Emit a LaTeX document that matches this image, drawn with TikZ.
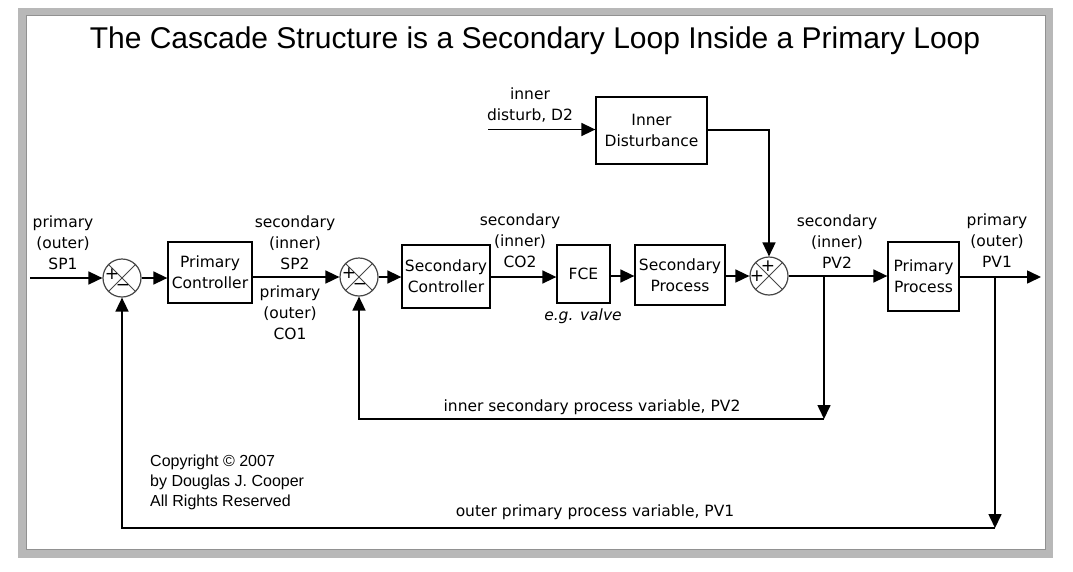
\documentclass[tikz,border=0pt]{standalone}
\usepackage{fontspec}
\setmainfont{DejaVu Sans}
\newfontfamily\arialf{Liberation Sans}
\usetikzlibrary{arrows.meta}
\definecolor{frameg}{RGB}{184,184,184}
\definecolor{frameedge}{RGB}{145,145,145}
\definecolor{sumgray}{RGB}{70,70,70}
\newcommand{\dlabfont}{\fontsize{15.5}{21}\selectfont}
\tikzset{
  blk/.style={draw, line width=1.3pt, inner sep=0pt, align=center, font=\dlabfont},
  lbl/.style={inner sep=0pt, align=center, font=\dlabfont},
  sumj/.style={circle, draw=sumgray, line width=1.2pt, minimum size=38pt, inner sep=0pt},
  xline/.style={draw=sumgray, line width=1pt},
  sgn/.style={inner sep=0pt, font=\fontsize{17}{17}\selectfont},
  conn/.style={line width=1.6pt, -{Triangle[length=14pt,width=13pt]}},
  wire/.style={line width=1.6pt},
}
\begin{document}
\begin{tikzpicture}[x=1pt,y=-1pt]
\useasboundingbox (0,0) rectangle (1073,571);
\fill[white] (0,0) rectangle (1073,571);
% frame
\draw[frameg, line width=8pt] (22,11.5) rectangle (1049,553.5);
\draw[frameedge, line width=0.8pt] (26,15.5) rectangle (1045,549.5);
% title
\node[anchor=base, inner sep=0pt, font=\arialf\fontsize{30}{34}\selectfont] (title) at (535,48.5)
  {The Cascade Structure is a Secondary Loop Inside a Primary Loop};

% summing junctions
\node[sumj] (J1) at (122,278) {};
\node[sumj] (J2) at (359,277) {};
\node[sumj] (J3) at (769,276) {};
\foreach \j in {J1,J2,J3}{
  \draw[xline] (\j.45) -- (\j.225) (\j.135) -- (\j.315);
}
\node[sgn, xshift=-10pt, yshift=4pt] (J1p) at (J1) {+};
\node[sgn, xshift=1pt, yshift=-9pt] (J1m) at (J1) {−};
\node[sgn, xshift=-10pt, yshift=4pt] (J2p) at (J2) {+};
\node[sgn, xshift=1pt, yshift=-9pt] (J2m) at (J2) {−};
\node[sgn, xshift=-12pt, yshift=0pt] (J3p) at (J3) {+};
\node[sgn, xshift=-1pt, yshift=10pt] (J3q) at (J3) {+};

% blocks
\node[blk, minimum width=84pt, minimum height=61pt] (PC) at (210,272.5) {Primary\\Controller};
\node[blk, minimum width=88pt, minimum height=63pt] (SC) at (446,276.5) {Secondary\\Controller};
\node[blk, minimum width=53pt, minimum height=58pt] (FCE) at (583.5,274) {FCE};
\node[blk, minimum width=90pt, minimum height=60pt] (SP) at (680,275) {Secondary\\Process};
\node[blk, minimum width=71pt, minimum height=69pt] (PP) at (923.5,276.5) {Primary\\Process};
\node[blk, minimum width=111pt, minimum height=67pt] (ID) at (651.5,130.5) {Inner\\Disturbance};

% coordinates
\coordinate (in) at (30,278);
\coordinate (out) at (1041,277);
\coordinate (d2) at (488,129.5);
\coordinate (idc) at (769,130);
\coordinate (b2) at (824,276);
\coordinate (c2) at (824,419);
\coordinate (b1) at (995,277);
\coordinate (c1) at (995,528);

% main path
\draw[conn] (in) -- (J1.west);
\draw[conn] (J1.east) -- (PC.west |- J1.east);
\draw[conn] (PC.east |- J2.west) -- (J2.west);
\draw[conn] (J2.east) -- (SC.west |- J2.east);
\draw[conn] (SC.east |- J2.east) -- (FCE.west |- J2.east);
\draw[conn] (FCE.east |- J3.west) -- (SP.west |- J3.west);
\draw[conn] (SP.east |- J3.west) -- (J3.west);
\draw[conn] (J3.east) -- (PP.west |- J3.east);
\draw[conn] (PP.east |- out) -- (out);
% disturbance
\draw[conn] (d2) -- (ID.west |- d2);
\draw[conn] (ID.east |- idc) -- (idc) -- (J3.north);
% inner feedback
\draw[conn] (b2) -- (c2);
\draw[conn] (c2) -- (c2 -| J2) -- (J2.south);
% outer feedback
\draw[conn] (b1) -- (c1);
\draw[conn] (c1) -- (c1 -| J1) -- (J1.south);

% labels
\node[lbl] (sp1) at (63,243) {primary\\(outer)\\SP1};
\node[lbl] (sp2) at (295,243) {secondary\\(inner)\\SP2};
\node[lbl] (co1) at (290,313) {primary\\(outer)\\CO1};
\node[lbl] (co2) at (520,241) {secondary\\(inner)\\CO2};
\node[lbl] (pv2) at (837,242) {secondary\\(inner)\\PV2};
\node[lbl] (pv1) at (997,241) {primary\\(outer)\\PV1};
\node[lbl] (d2l) at (530,105) {inner\\disturb, D2};
\node[lbl, font=\dlabfont\itshape] (valve) at (583,316) {e.g. valve};
\node[lbl] (fb2) at (592,407) {inner secondary process variable, PV2};
\node[lbl] (fb1) at (595,512) {outer primary process variable, PV1};
\node[inner sep=0pt, anchor=west, align=left, font=\arialf\fontsize{16}{20}\selectfont] (copy) at (150,482)
  {Copyright © 2007\\by Douglas J. Cooper\\All Rights Reserved};
\end{tikzpicture}
\end{document}
